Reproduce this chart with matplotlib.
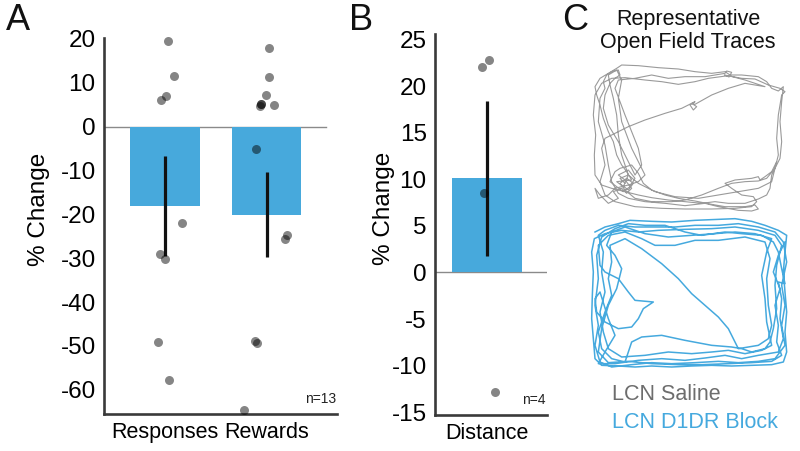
import numpy as np
import matplotlib
matplotlib.use("Agg")
import matplotlib.pyplot as plt

plt.rcParams['font.family'] = ['Liberation Sans', 'DejaVu Sans']

# ---------------- data ----------------
a_categories = ["Responses", "Rewards"]
a_means = [-18.1, -20.1]
a_sem = [11.5, 9.65]
a_resp_points = [19.5, 11.5, 7.0, 6.1, -21.9, -29.0, -30.2, -49.1, -57.8]
a_resp_jitter = [0.03, 0.09, 0.01, -0.04, 0.17, -0.05, 0.0, -0.07, 0.04]
a_rew_points = [18.0, 11.2, 7.3, 5.1, 5.1, 4.7, 4.9, -5.1, -24.6, -25.7, -48.8, -49.4, -64.7]
a_rew_jitter = [0.02, 0.02, -0.01, -0.06, -0.06, -0.07, 0.07, -0.11, 0.20, 0.18, -0.12, -0.10, -0.22]
a_yticks = [20, 10, 0, -10, -20, -30, -40, -50, -60]
a_n = "n=13"

b_categories = ["Distance"]
b_means = [10.1]
b_sem = [8.3]
b_points = [22.1, 22.8, 8.5, -12.8]
b_jitter = [-0.05, 0.02, -0.03, 0.08]
b_yticks = [25, 20, 15, 10, 5, 0, -5, -10, -15]
b_n = "n=4"

c_title = "Representative\nOpen Field Traces"
c_labels = ["LCN Saline", "LCN D1DR Block"]

saline_trace = [
    (120,385),(105,370),(130,360),(115,395),(95,380),(140,375),(125,350),(110,330),(95,300),(85,260),
    (70,230),(55,190),(45,150),(35,120),(30,95),(45,70),(70,55),(95,40),(110,30),(160,32),(220,38),
    (280,42),(330,50),(380,55),(420,50),(435,60),(470,60),(520,65),(545,80),(560,100),(580,108),
    (595,95),(590,140),(585,200),(590,260),(585,310),(575,330),(560,360),(555,400),(545,420),(520,432),
    (480,445),(430,445),(390,440),(350,445),(300,440),(250,435),(200,428),(160,420),(120,410),(80,400),
    (50,390),(30,360),(28,300),(32,240),(25,180),(30,120),(50,85),(80,70),(120,68),(180,75),(230,80),
    (280,88),(330,80),(370,70),(430,62),(480,75),(540,95),(480,85),(430,100),(380,120),(330,148),
    (320,145),(335,155),(325,165),(315,150),(330,140),
    (290,160),(240,175),(180,195),(130,215),(90,235),(60,250),(50,280),(60,330),(45,380),(60,420),
    (90,440),(150,455),(230,460),(300,462),(380,462),(450,460),(500,455),(515,440),(505,425),(470,420),
    (440,400),(420,385),(450,375),(500,370),(520,365),(525,375),(540,365),(560,350),(575,320),(560,380),
    (520,400),(460,410),(400,420),(340,430),(270,425),(210,410),(160,385),(130,360),(110,300),(100,240),
    (95,180),(85,130),(75,90),(70,60),(95,45),(110,75),(100,130),(110,200),(140,280),(170,340),
    (180,360),(160,380),(130,390),(90,400),(70,420),(40,430),(30,400),
    (45,420),(70,445),(100,430),(85,410),(110,400),(125,415),(140,400),(120,375),(100,360),(130,345),
    (150,370),(135,395),(115,410),(95,395),(75,380),(90,350),(105,340),(140,330),(160,355),(175,385),
    (200,405),(240,420),(280,430),(330,438),(380,448),(420,455),(480,455),(510,450),(520,462),(500,468),
    (460,466),(400,455),(360,445),
    (300,452),(240,445),(180,440),(130,430),(100,415),(80,380),(70,330),(60,270),(40,200),(45,130),
    (60,100),(55,80),(65,60),(80,50),(100,45),(105,60),(90,70),(75,85),(60,120),(55,160),(70,210),
    (100,260),(120,300),(140,340),(150,360),(170,330),(160,280),(140,230),(120,180),(105,140),(90,100),
    (100,75),(150,70),(200,60),(250,70),(300,65),(360,65),(420,55),(425,48),(440,52),(432,66),(418,60),
    (470,70),(510,72),(550,90),(585,100),(600,110),(590,120),(580,180),(575,250),(580,300),(570,340),
    (545,370),(520,378),(480,380),(440,385),(400,400),(350,420),(300,435),(260,440),(200,440),
    (150,430),(120,405),(105,385),(125,370),(145,385),(130,405),(110,390),
]
block_trace = [
    (30,60),(60,45),(100,35),(135,25),(200,28),(260,30),(330,25),(400,22),(450,20),(500,28),(540,40),
    (580,55),(605,70),(600,120),(595,180),(600,240),(605,300),(600,360),(605,420),(595,450),(560,458),
    (500,460),(440,462),(380,460),(320,462),(260,465),(200,462),(150,465),(100,462),(50,460),(30,440),
    (25,380),(20,320),(22,250),(25,180),(20,120),(28,80),(60,65),(110,55),(160,60),(220,55),(300,52),
    (380,50),(450,45),(520,55),(570,70),(590,100),(575,160),(570,220),(575,290),(565,350),(555,390),
    (540,410),(500,420),(470,410),(440,405),(380,400),(300,385),(230,370),(170,375),(140,390),(130,420),
    (120,450),(80,440),(50,410),(40,360),(60,300),(80,250),(70,200),(80,150),(75,100),(120,80),(170,110),
    (230,155),(280,200),(320,245),(360,280),(400,315),(430,350),(450,390),(460,410),(520,400),(550,380),
    (560,340),(550,280),(545,200),(555,140),(540,90),(480,75),(400,85),(330,85),(270,100),(210,100),
    (170,80),(120,60),(70,70),(40,100),(45,160),(60,180),(100,200),(130,240),(150,265),(205,270),
    (175,290),(160,320),(140,345),(100,350),(60,330),(35,300),(30,260),(45,240),(70,320),(90,370),
    (60,420),(40,455),(90,455),(160,445),(230,440),(300,445),(360,438),(420,430),(470,440),(520,430),
    (580,420),(595,380),(585,320),(590,260),(580,210),(600,215),
    (590,170),(580,120),(565,90),(530,70),(470,65),(420,60),(350,70),(300,60),(240,40),(180,40),
    (130,35),(90,50),(50,75),(35,130),(40,200),(30,280),(40,340),(30,400),(45,450),(80,465),
    (140,458),(200,452),(260,455),(330,452),(400,448),(460,452),(520,448),(570,440),(600,400),
    (590,340),(600,280),(590,220),(605,150),(595,90),(570,60),(520,45),(460,35),(400,40),(330,40),
    (270,45),(210,45),(150,45),(100,40),(60,55),(40,70),(55,120),(50,180),(60,240),(45,300),(55,360),
    (70,410),(110,435),(180,430),(250,420),(320,425),(380,420),(430,415),(480,425),(530,415),(560,400),
    (545,330),(540,260),(530,190),(545,120),(560,80),(510,65),(450,60),(390,65),(320,70),(250,75),
    (180,65),(120,45),(80,60),(65,100),(90,130),(110,170),(95,230),(70,280),(50,350),(40,420),
    (70,452),(130,448),(200,455),(280,458),(350,458),(430,455),(500,452),(560,448),(590,430),
    (575,390),(580,340),(570,280),(585,230),(565,180),(580,130),(600,90),
]

# ---------------- style ----------------
BAR = '#47a9dc'
SPINE = '#3a3a3a'
ZERO = '#8a8a8a'
DOT_ALPHA = 0.48
TICK_FS = 17.5
LABEL_FS = 17.5
XT_FS = 15.5

fig = plt.figure(figsize=(8.0, 4.51), dpi=100)
W, H = 800, 451

def px_axes(x0, y0, x1, y1):
    return fig.add_axes([x0 / W, 1 - y1 / H, (x1 - x0) / W, (y1 - y0) / H])

def style_axes(ax):
    for s in ['top', 'right']:
        ax.spines[s].set_visible(False)
    for s in ['left', 'bottom']:
        ax.spines[s].set_color(SPINE)
        ax.spines[s].set_linewidth(1.9)
    ax.tick_params(axis='both', length=0)
    ax.tick_params(axis='y', pad=6, labelsize=TICK_FS)
    ax.tick_params(axis='x', pad=6, labelsize=XT_FS)

def fmt(v):
    return str(v) if v >= 0 else '-' + str(-v)

# ---------------- panel A ----------------
axA = px_axes(104, 38, 337, 414)
xa = np.arange(len(a_categories))
axA.bar(xa, a_means, width=0.68, color=BAR, zorder=2)
axA.axhline(0, xmin=0, xmax=0.953, color=ZERO, lw=1.0, zorder=1)
for xi, m, e in zip(xa, a_means, a_sem):
    axA.plot([xi, xi], [m - e, m + e], color='#111111', lw=2.3, solid_capstyle='butt', zorder=3)
axA.scatter(xa[0] + np.array(a_resp_jitter), a_resp_points, s=42, color='black',
            alpha=DOT_ALPHA, linewidths=0, zorder=4, clip_on=False)
axA.scatter(xa[1] + np.array(a_rew_jitter), a_rew_points, s=42, color='black',
            alpha=DOT_ALPHA, linewidths=0, zorder=4, clip_on=False)
axA.set_xlim(-0.6, 1.69)
axA.set_ylim(-65.5, 20.2)
axA.set_yticks(a_yticks)
axA.set_yticklabels([fmt(v) for v in a_yticks])
axA.set_xticks(xa)
axA.set_xticklabels(a_categories)
style_axes(axA)
axA.set_ylabel('% Change', fontsize=LABEL_FS)
axA.yaxis.set_label_coords(-0.232, 0.543)
axA.text(0.995, 0.02, a_n, transform=axA.transAxes, ha='right', va='bottom', fontsize=10, color='#222222')

# ---------------- panel B ----------------
axB = px_axes(435, 34, 547, 415)
xb = np.arange(len(b_categories))
axB.bar(xb, b_means, width=0.68, color=BAR, zorder=2)
axB.axhline(0, color=ZERO, lw=1.0, zorder=1)
for xi, m, e in zip(xb, b_means, b_sem):
    axB.plot([xi, xi], [m - e, m + e], color='#111111', lw=2.3, solid_capstyle='butt', zorder=3)
axB.scatter(xb[0] + np.array(b_jitter), b_points, s=42, color='black',
            alpha=DOT_ALPHA, linewidths=0, zorder=4, clip_on=False)
axB.set_xlim(-0.51, 0.59)
axB.set_ylim(-15.3, 25.6)
axB.set_yticks(b_yticks)
axB.set_yticklabels([fmt(v) for v in b_yticks])
axB.set_xticks(xb)
axB.set_xticklabels(b_categories)
style_axes(axB)
axB.set_ylabel('% Change', fontsize=LABEL_FS)
axB.yaxis.set_label_coords(-0.357, 0.543)
axB.text(0.99, 0.02, b_n, transform=axB.transAxes, ha='right', va='bottom', fontsize=10, color='#222222')

# ---------------- panel C ----------------
axC = px_axes(585, 55, 795, 377)
axC.set_xlim(0, 630)
axC.set_ylim(966, 0)
axC.axis('off')
sx, sy = zip(*saline_trace)
bx, by = zip(*block_trace)
axC.plot(sx, sy, color='#9a9a9a', lw=0.8)
axC.plot(bx, np.array(by) + 471, color='#45a9de', lw=1.1)

fig.text(688 / W, 1 - 31 / H, c_title, ha='center', va='center', fontsize=15.5,
         linespacing=1.08, color='#111111')
fig.text(612 / W, 1 - 395 / H, c_labels[0], ha='left', va='center', fontsize=15.5, color='#6d6d6d')
fig.text(612 / W, 1 - 422 / H, c_labels[1], ha='left', va='center', fontsize=15.5, color='#45a9de')

# panel letters
for letter, x in [('A', 6), ('B', 349), ('C', 562)]:
    fig.text(x / W, 1 - 20 / H, letter, ha='left', va='center', fontsize=26, color='#111111')

fig.savefig('out.png', dpi=100)
